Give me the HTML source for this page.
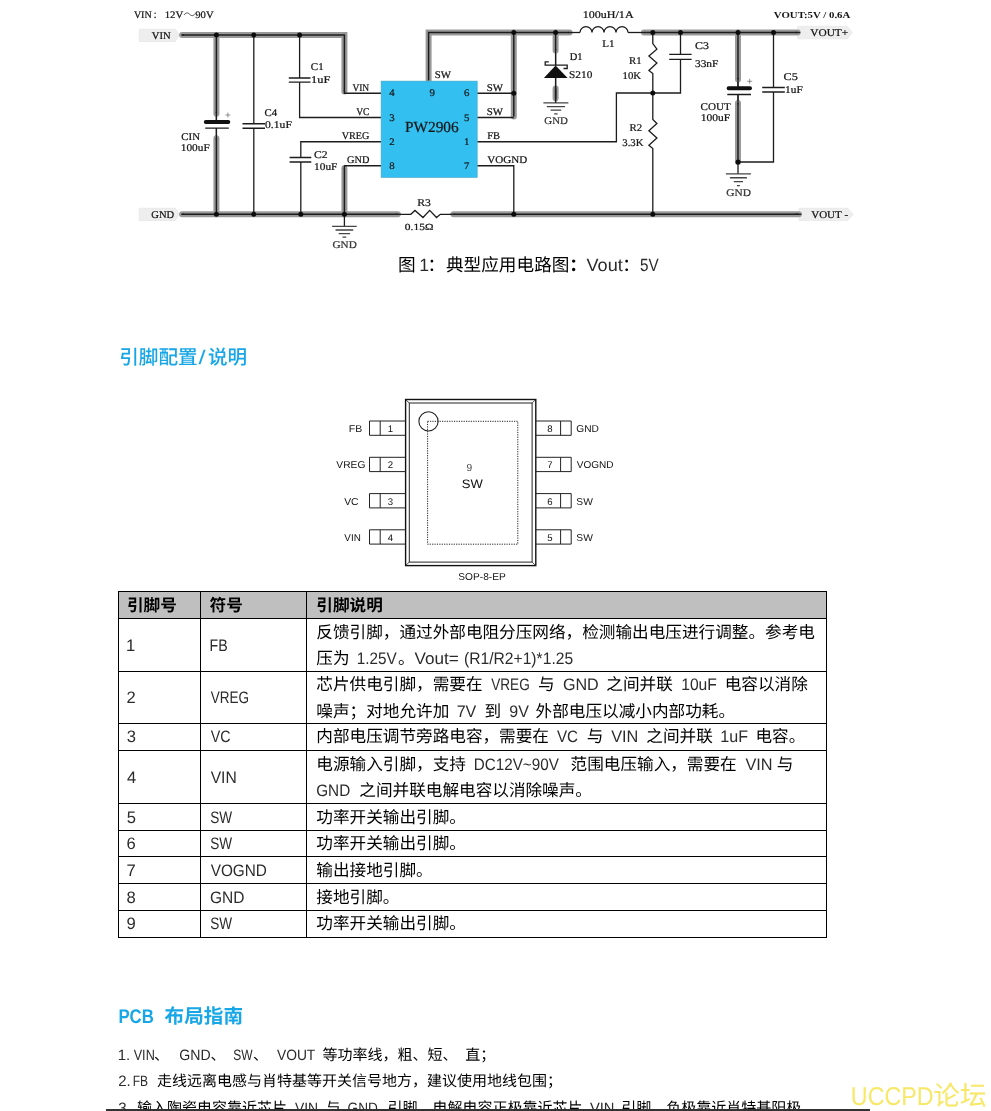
<!DOCTYPE html>
<html lang="zh"><head><meta charset="utf-8"><title>PW2906</title>
<style>
html,body{margin:0;padding:0;background:#fff}
body{width:991px;height:1111px;overflow:hidden;font-family:"Liberation Sans","Noto Sans CJK SC",sans-serif;color:#1a1a1a}
#page{position:relative;width:991px;height:1111px;overflow:hidden}
svg{overflow:visible}
svg text{font-family:"Liberation Sans","Noto Sans CJK SC",sans-serif;fill:#2b2b2b;text-rendering:geometricPrecision}
svg text.c{fill:#000}
.abs{position:absolute;display:block}
#circuit text{font-family:"Liberation Serif",serif;fill:#151515;stroke:#151515;stroke-width:.22px}
#circuit text[font-weight=bold]{stroke:none}
#pins text{font-family:"Liberation Sans",sans-serif;fill:#111}
h2,p,ol,li{margin:0;padding:0;font-weight:normal;font-size:0;line-height:0}
table{border-collapse:collapse;table-layout:fixed;margin:0;position:absolute;left:118px;top:591px}
td,th{border:1px solid #000;padding:0;font-size:0;line-height:0;vertical-align:top;font-weight:normal}
th{background:#bfbfbf}
td svg,th svg{display:block}
#page{transform:translateZ(0);will-change:transform}

</style></head>
<body>
<div id="page">
<svg id="circuit" class="abs" style="left:0;top:0" width="991" height="256" viewBox="0 0 991 256">
<g fill="#eeeeee" stroke="#e2e2e2" stroke-width=".6"><path d="M139.2 29.2H175.4L179.2 35.3L175.4 41.5H139.2z"/><path d="M139.2 208.2H175.4L179.2 214.3L175.4 220.5H139.2z"/><path d="M797.8 26.3H847.2L852.4 32.5L847.2 38.8H797.8z"/><path d="M799.1 208.2H847.7L853.1 214.3L847.7 220.6H799.1z"/></g>
<g fill="none" stroke="#999" stroke-width="6" stroke-linecap="round" stroke-linejoin="miter"><path d="M182.1 35 L344.4 35 L344.4 91.4"/><path d="M216.4 35 L216.4 113.8"/><path d="M216.4 138.2 L216.4 214.3"/><path d="M182.1 214.3 L397.8 214.3"/><path d="M344.4 214.3 L344.4 168.2"/><path d="M453.5 214.3 L798.8 214.3"/><path d="M428.6 80.5 L428.6 32.5 L569.6 32.5"/><path d="M513.8 32.5 L513.8 116.6"/><path d="M555.6 32.5 L555.6 50.6"/><path d="M555.6 88.6 L555.6 98.3"/><path d="M643.9 32.5 L797.7 32.5"/><path d="M738 32.5 L738 79.5"/><path d="M738 103 L738 162"/></g>
<g fill="none" stroke="#1c1c1c" stroke-width="1.45" stroke-linejoin="miter"><path d="M182.1 35 L344.4 35 L344.4 91.4"/><path d="M216.4 35 L216.4 113.8"/><path d="M216.4 138.2 L216.4 214.3"/><path d="M182.1 214.3 L397.8 214.3"/><path d="M344.4 214.3 L344.4 168.2"/><path d="M453.5 214.3 L798.8 214.3"/><path d="M428.6 80.5 L428.6 32.5 L569.6 32.5"/><path d="M513.8 32.5 L513.8 116.6"/><path d="M555.6 32.5 L555.6 50.6"/><path d="M555.6 88.6 L555.6 98.3"/><path d="M643.9 32.5 L797.7 32.5"/><path d="M738 32.5 L738 79.5"/><path d="M738 103 L738 162"/></g>
<g fill="none" stroke="#1c1c1c" stroke-width="1.3" stroke-linejoin="miter"><path d="M253.8 35 L253.8 123.7"/><path d="M253.8 128.3 L253.8 214.3"/><path d="M299.6 35 L299.6 78"/><path d="M299.6 82.3 L299.6 117.5 L381 117.5"/><path d="M381 141.75 L300.8 141.75 L300.8 157.5"/><path d="M300.8 162 L300.8 214.3"/><path d="M344.4 93.25 L381 93.25"/><path d="M344.4 165.75 L381 165.75"/><path d="M477.2 93.25 L513.8 93.25"/><path d="M477.2 117.5 L513.8 117.5"/><path d="M477.2 141.75 L616.4 141.75 L616.4 93 L680.5 93 L680.5 59.3"/><path d="M680.5 54.3 L680.5 32.5"/><path d="M477.2 165.75 L513.8 165.75 L513.8 214.3"/><path d="M652.8 32.5 L652.8 43.6 L656.9 49.2 L648.9 56.1 L656.9 63.1 L648.9 70.4 L652.8 73.6 L652.8 119.5 L656.9 123.5 L648.9 130.8 L656.9 138.1 L648.9 145.3 L652.8 148.6 L652.8 214.3"/><path d="M555.6 53 L555.6 65.3"/><path d="M555.6 77 L555.6 102.9"/><path d="M216.4 116 L216.4 122"/><path d="M216.4 128.1 L216.4 136"/><path d="M738 82 L738 88.2"/><path d="M738 94.5 L738 100.5"/><path d="M738 162 L738 173.7"/><path d="M773.5 32.5 L773.5 87.5"/><path d="M773.5 92 L773.5 162 L738 162"/><path d="M344.4 214.3 L344.4 226.4"/><path d="M400.8 214.3 L410.8 214.3 L415 210.4 L423 217.5 L429.7 210.4 L436.5 217.5 L440.3 214.3 L450.6 214.3"/><path d="M568 32.5 L580 32.5"/><path d="M628 32.5 L645 32.5"/><path d="M181.2 35 L184 35"/><path d="M181.2 214.3 L184 214.3"/><path d="M795 32.5 L800.2 32.5"/><path d="M795 214.3 L801.4 214.3"/><path d="M344.4 90 L344.4 93.9"/><path d="M344.4 165.1 L344.4 169"/><path d="M396 214.3 L401 214.3"/><path d="M450 214.3 L455 214.3"/><path d="M216.4 112 L216.4 122"/><path d="M216.4 128.1 L216.4 140"/><path d="M555.6 49 L555.6 65.3"/><path d="M555.6 77 L555.6 102.9"/><path d="M738 78 L738 88.2"/><path d="M738 94.5 L738 104.5"/><path d="M242.5 123.75H265M242.5 128.25H265M288.8 78H310.5M288.8 82.2H310.5M289.6 157.5H311.3M289.6 162H311.3M669.2 54.3H691.6M669.2 59.3H691.6M762.2 87.5H784.8M762.2 92H784.8M205.2 128.1H228.8M727.3 94.5H751"/><path d="M580 32.5a6 5.8 0 0 1 12 0a6 5.8 0 0 1 12 0a6 5.8 0 0 1 12 0a6 5.8 0 0 1 12 0"/><path d="M548.8 61.9H545.2V65.2H567.2V68.5H563.5"/></g>
<path d="M205.8 121.9H228.3M728.6 88.2H750" fill="none" stroke="#111" stroke-width="4" stroke-linecap="round"/>
<path d="M555.6 65.4L567.6 77.9H543.9z" fill="#111"/>
<path d="M332.1 226.4H356.7M335.55 230H353.25M338.7 233.6H350.1M342.5 237.2H346.3M543.4 102.9H568.4M546.85 106.55H564.95M550.55 110.2H561.25M554.15 113.85H557.65M725.9 173.8H750.9M729.9 177.75H746.9M733.75 181.7H743.05M736.9 185.65H739.9" fill="none" stroke="#444" stroke-width="1.3"/>
<path d="M225.4 115H230.4M227.9 112.5V117.5M747.2 81.3H752.2M749.7 78.8V83.8" fill="none" stroke="#666" stroke-width=".7"/>
<rect x="381.1" y="81.1" width="96.1" height="96.4" fill="#33bff0" stroke="#4aa6c6" stroke-width=".6"/>
<g fill="#0c0c0c"><circle cx="216.4" cy="35" r="2.5"/><circle cx="253.8" cy="35" r="2.5"/><circle cx="299.6" cy="35" r="2.5"/><circle cx="216.4" cy="214.3" r="2.5"/><circle cx="253.8" cy="214.3" r="2.5"/><circle cx="300.8" cy="214.3" r="2.5"/><circle cx="344.4" cy="214.3" r="2.5"/><circle cx="513.8" cy="32.5" r="2.5"/><circle cx="555.6" cy="32.5" r="2.5"/><circle cx="513.8" cy="93.25" r="2.5"/><circle cx="513.8" cy="214.3" r="2.5"/><circle cx="652.8" cy="32.5" r="2.5"/><circle cx="680.5" cy="32.5" r="2.5"/><circle cx="738" cy="32.5" r="2.5"/><circle cx="773.5" cy="32.5" r="2.5"/><circle cx="652.8" cy="93" r="2.5"/><circle cx="652.8" cy="214.3" r="2.5"/><circle cx="738" cy="162" r="2.5"/></g>
<g><text x="133.89" y="18" font-size="10" textLength="17.74" lengthAdjust="spacingAndGlyphs">VIN</text><circle cx="155.1" cy="13.2" r=".8" fill="#222"/><circle cx="155.1" cy="17.4" r=".8" fill="#222"/><text x="164.65" y="18" font-size="10" textLength="18.57" lengthAdjust="spacingAndGlyphs">12V</text><path d="M184 14.9c2-2.6 3.8-2.4 5.6-.6s3.6 2 5.4-.6" fill="none" stroke="#222" stroke-width=".8"/><text x="195.26" y="18" font-size="10" textLength="18.36" lengthAdjust="spacingAndGlyphs">90V</text><text x="582.74" y="17.5" font-size="10.3" textLength="50.85" lengthAdjust="spacingAndGlyphs">100uH/1A</text><text x="773.88" y="17.8" font-size="9.2" textLength="76.4" lengthAdjust="spacingAndGlyphs" font-weight="bold">VOUT:5V / 0.6A</text><text x="151.78" y="38.6" font-size="10.4" textLength="18.86" lengthAdjust="spacingAndGlyphs">VIN</text><text x="151.37" y="217.7" font-size="10.4" textLength="22.86" lengthAdjust="spacingAndGlyphs">GND</text><text x="810.27" y="36.3" font-size="10.4" textLength="37.88" lengthAdjust="spacingAndGlyphs">VOUT+</text><text x="811.18" y="217.7" font-size="10.4" textLength="36.92" lengthAdjust="spacingAndGlyphs">VOUT -</text><text x="310.85" y="70" font-size="10.3" textLength="12.81" lengthAdjust="spacingAndGlyphs">C1</text><text x="311.11" y="82.5" font-size="10.3" textLength="19.34" lengthAdjust="spacingAndGlyphs">1uF</text><text x="264.56" y="116.3" font-size="10.3" textLength="12.61" lengthAdjust="spacingAndGlyphs">C4</text><text x="265.06" y="128.3" font-size="10.3" textLength="26.86" lengthAdjust="spacingAndGlyphs">0.1uF</text><text x="181.35" y="139.5" font-size="10.3" textLength="18.69" lengthAdjust="spacingAndGlyphs">CIN</text><text x="180.81" y="151.3" font-size="10.3" textLength="28.9" lengthAdjust="spacingAndGlyphs">100uF</text><text x="314.02" y="157.5" font-size="10.3" textLength="13.62" lengthAdjust="spacingAndGlyphs">C2</text><text x="314" y="169.5" font-size="10.3" textLength="23.41" lengthAdjust="spacingAndGlyphs">10uF</text><text x="352.39" y="90.8" font-size="10.3" textLength="16.82" lengthAdjust="spacingAndGlyphs">VIN</text><text x="356.19" y="114.6" font-size="10.3" textLength="13.34" lengthAdjust="spacingAndGlyphs">VC</text><text x="341.69" y="138.8" font-size="10.3" textLength="27.63" lengthAdjust="spacingAndGlyphs">VREG</text><text x="347.08" y="163" font-size="10.3" textLength="22.34" lengthAdjust="spacingAndGlyphs">GND</text><text x="332.54" y="248" font-size="10.3" textLength="24.21" lengthAdjust="spacingAndGlyphs" style="fill:#444">GND</text><text x="417.16" y="205.5" font-size="10.3" textLength="13.7" lengthAdjust="spacingAndGlyphs">R3</text><text x="404.86" y="229.6" font-size="9.4" textLength="28.53" lengthAdjust="spacingAndGlyphs">0.15Ω</text><text x="392" y="96.4" font-size="10.1" text-anchor="middle" transform="translate(392 0) scale(1.07 1) translate(-392 0)">4</text><text x="392" y="120.9" font-size="10.1" text-anchor="middle" transform="translate(392 0) scale(1.07 1) translate(-392 0)">3</text><text x="392" y="145.4" font-size="10.1" text-anchor="middle" transform="translate(392 0) scale(1.07 1) translate(-392 0)">2</text><text x="392" y="169.3" font-size="10.1" text-anchor="middle" transform="translate(392 0) scale(1.07 1) translate(-392 0)">8</text><text x="432.1" y="96.4" font-size="10.1" text-anchor="middle" transform="translate(432.1 0) scale(1.07 1) translate(-432.1 0)">9</text><text x="466.8" y="96.4" font-size="10.1" text-anchor="middle" transform="translate(466.8 0) scale(1.07 1) translate(-466.8 0)">6</text><text x="466.8" y="120.9" font-size="10.1" text-anchor="middle" transform="translate(466.8 0) scale(1.07 1) translate(-466.8 0)">5</text><text x="466.8" y="145.4" font-size="10.1" text-anchor="middle" transform="translate(466.8 0) scale(1.07 1) translate(-466.8 0)">1</text><text x="466.8" y="169.3" font-size="10.1" text-anchor="middle" transform="translate(466.8 0) scale(1.07 1) translate(-466.8 0)">7</text><text x="404.96" y="132.4" font-size="15.3" textLength="53.7" lengthAdjust="spacingAndGlyphs">PW2906</text><text x="434.68" y="78.2" font-size="10.3" textLength="16.25" lengthAdjust="spacingAndGlyphs">SW</text><text x="486.78" y="90.5" font-size="10.3" textLength="16.25" lengthAdjust="spacingAndGlyphs">SW</text><text x="486.78" y="114.6" font-size="10.3" textLength="16.25" lengthAdjust="spacingAndGlyphs">SW</text><text x="487.2" y="138.8" font-size="10.3" textLength="12.81" lengthAdjust="spacingAndGlyphs">FB</text><text x="487.38" y="163" font-size="10.3" textLength="39.87" lengthAdjust="spacingAndGlyphs">VOGND</text><text x="569.7" y="59.5" font-size="10.3" textLength="12.83" lengthAdjust="spacingAndGlyphs">D1</text><text x="569.04" y="77.5" font-size="10.3" textLength="23.29" lengthAdjust="spacingAndGlyphs">S210</text><text x="544.35" y="124.4" font-size="10.3" textLength="23.58" lengthAdjust="spacingAndGlyphs" style="fill:#444">GND</text><text x="602.18" y="46.6" font-size="10.3" textLength="12.28" lengthAdjust="spacingAndGlyphs">L1</text><text x="629.09" y="63.8" font-size="10.3" textLength="12.56" lengthAdjust="spacingAndGlyphs">R1</text><text x="622.55" y="78.8" font-size="10.3" textLength="18.56" lengthAdjust="spacingAndGlyphs">10K</text><text x="629.49" y="130.8" font-size="10.3" textLength="12.61" lengthAdjust="spacingAndGlyphs">R2</text><text x="622.28" y="145.5" font-size="10.3" textLength="21.33" lengthAdjust="spacingAndGlyphs">3.3K</text><text x="695.01" y="48.8" font-size="10.3" textLength="13.96" lengthAdjust="spacingAndGlyphs">C3</text><text x="694.95" y="67" font-size="10.3" textLength="23.46" lengthAdjust="spacingAndGlyphs">33nF</text><text x="700.55" y="109.5" font-size="10.3" textLength="30.14" lengthAdjust="spacingAndGlyphs">COUT</text><text x="700.79" y="120.8" font-size="10.3" textLength="29.43" lengthAdjust="spacingAndGlyphs">100uF</text><text x="783.5" y="80" font-size="10.3" textLength="14.28" lengthAdjust="spacingAndGlyphs">C5</text><text x="785" y="92.5" font-size="10.3" textLength="17.71" lengthAdjust="spacingAndGlyphs">1uF</text><text x="726.33" y="196.3" font-size="10.3" textLength="24.62" lengthAdjust="spacingAndGlyphs" style="fill:#444">GND</text></g>
</svg>
<p><svg class="abs" style="left:395px;top:254px" width="270" height="24" viewBox="395 254 270 24"><text class="c" x="398" y="271.4" font-size="17.65">图</text><text x="419.26" y="271.4" font-size="17.65">1</text><text class="c" x="427.6" y="271.4" font-size="17.65">：</text><text class="c" x="445.9" y="271.4" font-size="17.65" textLength="123.55" lengthAdjust="spacing">典型应用电路图</text><text class="c" x="569.3" y="271.4" font-size="17.65" font-weight="bold">：</text><text x="586.52" y="271.4" font-size="17.65" textLength="36.31" lengthAdjust="spacingAndGlyphs">Vout</text><text class="c" x="622.2" y="271.4" font-size="17.65">：</text><text x="640.09" y="271.4" font-size="17.65" textLength="18.68" lengthAdjust="spacingAndGlyphs">5V</text></svg></p>
<h2><svg class="abs" style="left:116px;top:344px" width="140" height="26" viewBox="116 344 140 26"><text x="119.2" y="363.9" font-size="19.6" font-weight="500" textLength="78.4" lengthAdjust="spacing" style="fill:#17a6e6">引脚配置</text><text x="198.4" y="363.9" font-size="19.6" textLength="7.1" lengthAdjust="spacingAndGlyphs" style="fill:#17a6e6">/</text><text x="207.9" y="363.9" font-size="19.6" font-weight="500" textLength="39.2" lengthAdjust="spacing" style="fill:#17a6e6">说明</text></svg></h2>
<svg id="pins" class="abs" style="left:330px;top:395px" width="290" height="190" viewBox="330 395 290 190">
<g fill="none" stroke="#222" stroke-width="1">
<rect x="405.6" y="399.5" width="130.2" height="166.1" stroke-width="1.4" stroke="#111"/>
<rect x="409.3" y="403" width="122.8" height="159.1"/>
<path d="M405.6 399.5L409.3 403M535.8 399.5L532.1 403M405.6 565.6L409.3 562.1M535.8 565.6L532.1 562.1" stroke-width=".8"/>
<circle cx="428.5" cy="421.4" r="9.6" stroke-width="1.1"/>
<rect x="427.6" y="421.3" width="90.2" height="122.9" stroke-dasharray="1.2 1.2" stroke-width="1"/>
<path d="M405.6 421H369.5V435.3H405.6M380.2 421V435.3"/>
<path d="M535.8 421H571.2V435.3H535.8M560.6 421V435.3"/>
<path d="M405.6 457.3H369.5V471.6H405.6M380.2 457.3V471.6"/>
<path d="M535.8 457.3H571.2V471.6H535.8M560.6 457.3V471.6"/>
<path d="M405.6 493.6H369.5V507.9H405.6M380.2 493.6V507.9"/>
<path d="M535.8 493.6H571.2V507.9H535.8M560.6 493.6V507.9"/>
<path d="M405.6 529.8H369.5V544.1H405.6M380.2 529.8V544.1"/>
<path d="M535.8 529.8H571.2V544.1H535.8M560.6 529.8V544.1"/>
</g>
<g><text x="390.3" y="431.9" font-size="9.6" text-anchor="middle">1</text><text x="549.8" y="431.9" font-size="9.6" text-anchor="middle">8</text><text x="390.3" y="468.2" font-size="9.6" text-anchor="middle">2</text><text x="549.8" y="468.2" font-size="9.6" text-anchor="middle">7</text><text x="390.3" y="504.5" font-size="9.6" text-anchor="middle">3</text><text x="549.8" y="504.5" font-size="9.6" text-anchor="middle">6</text><text x="390.3" y="540.7" font-size="9.6" text-anchor="middle">4</text><text x="549.8" y="540.7" font-size="9.6" text-anchor="middle">5</text><text x="348.74" y="432" font-size="10" textLength="13.41" lengthAdjust="spacingAndGlyphs">FB</text><text x="336.36" y="468.2" font-size="10" textLength="29.01" lengthAdjust="spacingAndGlyphs">VREG</text><text x="344.15" y="504.5" font-size="10" textLength="14.44" lengthAdjust="spacingAndGlyphs">VC</text><text x="344.36" y="540.7" font-size="10" textLength="16.45" lengthAdjust="spacingAndGlyphs">VIN</text><text x="576.29" y="432.2" font-size="10" textLength="22.6" lengthAdjust="spacingAndGlyphs">GND</text><text x="576.76" y="468.4" font-size="10" textLength="36.72" lengthAdjust="spacingAndGlyphs">VOGND</text><text x="576.33" y="504.7" font-size="10" textLength="16.5" lengthAdjust="spacingAndGlyphs">SW</text><text x="576.33" y="540.9" font-size="10" textLength="16.5" lengthAdjust="spacingAndGlyphs">SW</text><text x="469.3" y="471" font-size="10.2" text-anchor="middle" style="fill:#444">9</text><text x="461.81" y="487.6" font-size="12.2" textLength="21.04" lengthAdjust="spacingAndGlyphs">SW</text><text x="458.34" y="580.2" font-size="10" textLength="47.4" lengthAdjust="spacingAndGlyphs">SOP-8-EP</text></g>
</svg>
<table>
<colgroup><col style="width:82px"><col style="width:106px"><col style="width:520px"></colgroup>
<tr>
<th><svg width="81" height="26" viewBox="119 592 81 26"><text class="c" x="127" y="611.2" font-size="16.62" font-weight="bold" textLength="49.86" lengthAdjust="spacing">引脚号</text></svg></th>
<th><svg width="105" height="26" viewBox="201 592 105 26"><text class="c" x="209.6" y="611.2" font-size="16.62" font-weight="bold" textLength="33.24" lengthAdjust="spacing">符号</text></svg></th>
<th><svg width="519" height="26" viewBox="307 592 519 26"><text class="c" x="316.3" y="611.2" font-size="16.62" font-weight="bold" textLength="66.48" lengthAdjust="spacing">引脚说明</text></svg></th>
</tr>
<tr>
<td><svg width="81" height="52" viewBox="119 619 81 52"><text x="126.03" y="650.83" font-size="16.62">1</text></svg></td>
<td><svg width="105" height="52" viewBox="201 619 105 52"><text x="209.58" y="650.83" font-size="16.62" textLength="18.17" lengthAdjust="spacingAndGlyphs">FB</text></svg></td>
<td><svg width="519" height="26" viewBox="307 619 519 26"><text class="c" x="316.3" y="637.5" font-size="16.62" textLength="498.6" lengthAdjust="spacing">反馈引脚，通过外部电阻分压网络，检测输出电压进行调整。参考电</text></svg><svg width="519" height="26" viewBox="307 645 519 26"><text class="c" x="316.3" y="663.75" font-size="16.62" textLength="33.24" lengthAdjust="spacing">压为</text><text x="356.63" y="663.75" font-size="16.62" textLength="40.03" lengthAdjust="spacingAndGlyphs">1.25V</text><text class="c" x="398.1" y="663.75" font-size="16.62">。</text><text x="414.43" y="663.75" font-size="16.62" textLength="44.3" lengthAdjust="spacingAndGlyphs">Vout=</text><text x="463.93" y="663.75" font-size="16.62" textLength="109.23" lengthAdjust="spacingAndGlyphs">(R1/R2+1)*1.25</text></svg></td>
</tr>
<tr>
<td><svg width="81" height="51" viewBox="119 672 81 51"><text x="126.46" y="703.33" font-size="16.62">2</text></svg></td>
<td><svg width="105" height="51" viewBox="201 672 105 51"><text x="210.69" y="703.33" font-size="16.62" textLength="38.32" lengthAdjust="spacingAndGlyphs">VREG</text></svg></td>
<td><svg width="519" height="25.5" viewBox="307 672 519 25.5"><text class="c" x="316.3" y="690" font-size="16.62" textLength="166.2" lengthAdjust="spacing">芯片供电引脚，需要在</text><text x="491.19" y="690" font-size="16.62" textLength="38.58" lengthAdjust="spacingAndGlyphs">VREG</text><text class="c" x="538" y="690" font-size="16.62">与</text><text x="562.94" y="690" font-size="16.62" textLength="35.83" lengthAdjust="spacingAndGlyphs">GND</text><text class="c" x="606.3" y="690" font-size="16.62" textLength="66.48" lengthAdjust="spacing">之间并联</text><text x="681.21" y="690" font-size="16.62" textLength="35.67" lengthAdjust="spacingAndGlyphs">10uF</text><text class="c" x="724.7" y="690" font-size="16.62" textLength="83.1" lengthAdjust="spacing">电容以消除</text></svg><svg width="519" height="25.5" viewBox="307 697.5 519 25.5"><text class="c" x="316.3" y="716.25" font-size="16.62" textLength="132.96" lengthAdjust="spacing">噪声；对地允许加</text><text x="456.68" y="716.25" font-size="16.62" textLength="19.64" lengthAdjust="spacingAndGlyphs">7V</text><text class="c" x="484.5" y="716.25" font-size="16.62">到</text><text x="509.25" y="716.25" font-size="16.62" textLength="19.57" lengthAdjust="spacingAndGlyphs">9V</text><text class="c" x="535.6" y="716.25" font-size="16.62" textLength="199.44" lengthAdjust="spacing">外部电压以减小内部功耗。</text></svg></td>
</tr>
<tr>
<td><svg width="81" height="26" viewBox="119 724 81 26"><text x="126.67" y="742.4" font-size="16.62">3</text></svg></td>
<td><svg width="105" height="26" viewBox="201 724 105 26"><text x="210.69" y="742.4" font-size="16.62" textLength="19.86" lengthAdjust="spacingAndGlyphs">VC</text></svg></td>
<td><svg width="519" height="26" viewBox="307 724 519 26"><text class="c" x="316.3" y="742.4" font-size="16.62" textLength="232.68" lengthAdjust="spacing">内部电压调节旁路电容，需要在</text><text x="556.93" y="742.4" font-size="16.62" textLength="21.15" lengthAdjust="spacingAndGlyphs">VC</text><text class="c" x="586.8" y="742.4" font-size="16.62">与</text><text x="611.18" y="742.4" font-size="16.62" textLength="27.15" lengthAdjust="spacingAndGlyphs">VIN</text><text class="c" x="646.3" y="742.4" font-size="16.62" textLength="66.48" lengthAdjust="spacing">之间并联</text><text x="720.37" y="742.4" font-size="16.62" textLength="27.77" lengthAdjust="spacingAndGlyphs">1uF</text><text class="c" x="755.5" y="742.4" font-size="16.62" textLength="49.86" lengthAdjust="spacing">电容。</text></svg></td>
</tr>
<tr>
<td><svg width="81" height="52" viewBox="119 751 81 52"><text x="126.92" y="783.2" font-size="16.62">4</text></svg></td>
<td><svg width="105" height="52" viewBox="201 751 105 52"><text x="210.68" y="783.2" font-size="16.62" textLength="26.1" lengthAdjust="spacingAndGlyphs">VIN</text></svg></td>
<td><svg width="519" height="26" viewBox="307 751 519 26"><text class="c" x="316.3" y="770" font-size="16.62" textLength="149.58" lengthAdjust="spacing">电源输入引脚，支持</text><text x="473.75" y="770" font-size="16.62" textLength="85.07" lengthAdjust="spacingAndGlyphs">DC12V~90V</text><text class="c" x="570.6" y="770" font-size="16.62" textLength="116.34" lengthAdjust="spacing">范围电压输入，</text><text class="c" x="686.8" y="770" font-size="16.62" textLength="49.86" lengthAdjust="spacing">需要在</text><text x="745.43" y="770" font-size="16.62" textLength="27.15" lengthAdjust="spacingAndGlyphs">VIN</text><text class="c" x="776.8" y="770" font-size="16.62">与</text></svg><svg width="519" height="26" viewBox="307 777 519 26"><text x="316.23" y="796" font-size="16.62" textLength="34" lengthAdjust="spacingAndGlyphs">GND</text><text class="c" x="359.3" y="796" font-size="16.62" textLength="232.68" lengthAdjust="spacing">之间并联电解电容以消除噪声。</text></svg></td>
</tr>
<tr>
<td><svg width="81" height="26" viewBox="119 804 81 26"><text x="126.63" y="822.5" font-size="16.62">5</text></svg></td>
<td><svg width="105" height="26" viewBox="201 804 105 26"><text x="210.13" y="822.5" font-size="16.62" textLength="21.91" lengthAdjust="spacingAndGlyphs">SW</text></svg></td>
<td><svg width="519" height="26" viewBox="307 804 519 26"><text class="c" x="316.3" y="822.5" font-size="16.62" textLength="149.58" lengthAdjust="spacing">功率开关输出引脚。</text></svg></td>
</tr>
<tr>
<td><svg width="81" height="25" viewBox="119 831 81 25"><text x="126.46" y="849.2" font-size="16.62">6</text></svg></td>
<td><svg width="105" height="25" viewBox="201 831 105 25"><text x="210.13" y="849.2" font-size="16.62" textLength="21.91" lengthAdjust="spacingAndGlyphs">SW</text></svg></td>
<td><svg width="519" height="25" viewBox="307 831 519 25"><text class="c" x="316.3" y="849.2" font-size="16.62" textLength="149.58" lengthAdjust="spacing">功率开关输出引脚。</text></svg></td>
</tr>
<tr>
<td><svg width="81" height="26" viewBox="119 857 81 26"><text x="126.45" y="876.2" font-size="16.62">7</text></svg></td>
<td><svg width="105" height="26" viewBox="201 857 105 26"><text x="210.68" y="876.2" font-size="16.62" textLength="56.3" lengthAdjust="spacingAndGlyphs">VOGND</text></svg></td>
<td><svg width="519" height="26" viewBox="307 857 519 26"><text class="c" x="316.3" y="876.2" font-size="16.62" textLength="116.34" lengthAdjust="spacing">输出接地引脚。</text></svg></td>
</tr>
<tr>
<td><svg width="81" height="26" viewBox="119 884 81 26"><text x="126.58" y="902.5" font-size="16.62">8</text></svg></td>
<td><svg width="105" height="26" viewBox="201 884 105 26"><text x="209.97" y="902.5" font-size="16.62" textLength="34.52" lengthAdjust="spacingAndGlyphs">GND</text></svg></td>
<td><svg width="519" height="26" viewBox="307 884 519 26"><text class="c" x="316.3" y="902.5" font-size="16.62" textLength="83.1" lengthAdjust="spacing">接地引脚。</text></svg></td>
</tr>
<tr>
<td><svg width="81" height="26" viewBox="119 911 81 26"><text x="126.52" y="929.2" font-size="16.62">9</text></svg></td>
<td><svg width="105" height="26" viewBox="201 911 105 26"><text x="210.13" y="929.2" font-size="16.62" textLength="21.91" lengthAdjust="spacingAndGlyphs">SW</text></svg></td>
<td><svg width="519" height="26" viewBox="307 911 519 26"><text class="c" x="316.3" y="929.2" font-size="16.62" textLength="149.58" lengthAdjust="spacing">功率开关输出引脚。</text></svg></td>
</tr>
</table>
<h2><svg class="abs" style="left:116px;top:1002px" width="140" height="26" viewBox="116 1002 140 26"><text x="118.38" y="1022.5" font-size="19.8" textLength="35.38" lengthAdjust="spacingAndGlyphs" font-weight="bold" style="fill:#17a6e6">PCB</text><text x="164.6" y="1022.5" font-size="19.6" font-weight="bold" textLength="78.4" lengthAdjust="spacing" style="fill:#17a6e6">布局指南</text></svg></h2>
<ol><li><svg class="abs" style="left:116px;top:1044.5px" width="720" height="22" viewBox="116 1044.5 720 22"><text x="117.76" y="1059.5" font-size="15">1.</text><text x="133.69" y="1059.5" font-size="15" textLength="21.09" lengthAdjust="spacingAndGlyphs">VIN</text><text class="c" x="154" y="1059.5" font-size="15">、</text><text x="179.29" y="1059.5" font-size="15" textLength="31.39" lengthAdjust="spacingAndGlyphs">GND</text><text class="c" x="210.4" y="1059.5" font-size="15">、</text><text x="233.2" y="1059.5" font-size="15" textLength="19.34" lengthAdjust="spacingAndGlyphs">SW</text><text class="c" x="253" y="1059.5" font-size="15">、</text><text x="276.94" y="1059.5" font-size="15" textLength="38.38" lengthAdjust="spacingAndGlyphs">VOUT</text><text class="c" x="322.5" y="1059.5" font-size="15" textLength="135" lengthAdjust="spacing">等功率线，粗、短、</text><text class="c" x="465.2" y="1059.5" font-size="15" textLength="30" lengthAdjust="spacing">直；</text></svg></li><li><svg class="abs" style="left:116px;top:1071.25px" width="720" height="22" viewBox="116 1071.25 720 22"><text x="118.15" y="1086.25" font-size="15">2.</text><text x="132.76" y="1086.25" font-size="15" textLength="15.37" lengthAdjust="spacingAndGlyphs">FB</text><text class="c" x="157" y="1086.25" font-size="15" textLength="405" lengthAdjust="spacing">走线远离电感与肖特基等开关信号地方，建议使用地线包围；</text></svg></li><li><svg class="abs" style="left:116px;top:1098px" width="720" height="22" viewBox="116 1098 720 22"><text x="118.33" y="1113" font-size="15">3.</text><text class="c" x="137" y="1113" font-size="15" textLength="150" lengthAdjust="spacing">输入陶瓷电容靠近芯片</text><text x="294.94" y="1113" font-size="15" textLength="23.2" lengthAdjust="spacingAndGlyphs">VIN</text><text class="c" x="325.5" y="1113" font-size="15">与</text><text x="347.61" y="1113" font-size="15" textLength="30.34" lengthAdjust="spacingAndGlyphs">GND</text><text class="c" x="387.6" y="1113" font-size="15" textLength="195" lengthAdjust="spacing">引脚，电解电容正极靠近芯片</text><text x="589.94" y="1113" font-size="15" textLength="24.57" lengthAdjust="spacingAndGlyphs">VIN</text><text class="c" x="621.2" y="1113" font-size="15" textLength="195" lengthAdjust="spacing">引脚，负极靠近肖特基阳极。</text></svg></li></ol>
<div class="abs" style="left:106px;top:1109.3px;width:763.5px;height:1.7px;background:#333"></div><div><svg class="abs" style="left:848px;top:1080px" width="143" height="31" viewBox="848 1080 143 31"><text x="850.8" y="1105.3" font-size="25.8" textLength="82.91" lengthAdjust="spacingAndGlyphs" style="fill:#f7e868">UCCPD</text><text x="933.2" y="1105.3" font-size="26.6" textLength="53.4" lengthAdjust="spacing" style="fill:#f7e868">论坛</text></svg></div>
</div>
</body></html>
